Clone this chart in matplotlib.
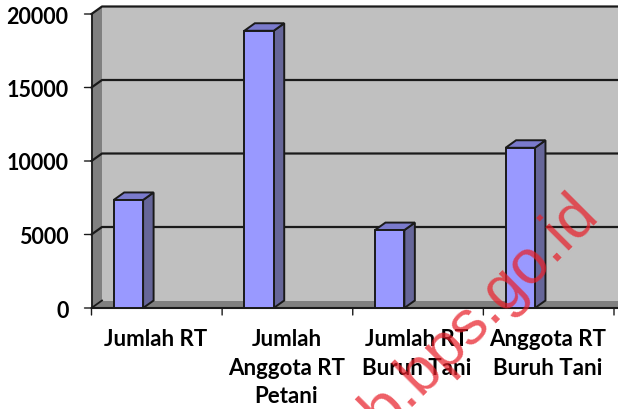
"""
3D-look column chart: households and household members
"""
import matplotlib
matplotlib.use('Agg')
import matplotlib.pyplot as plt
from matplotlib.patches import Polygon

# DATA
categories = ['Jumlah RT', 'Jumlah\nAnggota RT\nPetani', 'Jumlah RT\nBuruh Tani', 'Anggota RT\nBuruh Tani']
values = [7350, 18860, 5300, 10900]
y_ticks = [0, 5000, 10000, 15000, 20000]
y_max = 20000

# STYLE
BAR_FRONT = '#9999ff'
BAR_TOP = '#7a7acc'
BAR_SIDE = '#666699'
WALL = '#c0c0c0'
SIDE_WALL = '#808080'
EDGE = '#1a1a1a'
FONT = 'Lato'

W, H = 618, 409
fig = plt.figure(figsize=(W / 100, H / 100), dpi=100)
ax = fig.add_axes([91.5 / W, 1 - 308 / H, (614 - 91.5) / W, (308 - 14) / H])
ax.set_xlim(0, 4)
ax.set_ylim(0, y_max)
ax.axis('off')

# depth of the fake 3D box, in data units
dx = 10.5 / ((614 - 91.5) / 4)
dy = 7.5 / (294 / y_max)
xr = 4.1


def poly(pts, color, edge='none', lw=0, z=1):
    ax.add_patch(Polygon(pts, closed=True, facecolor=color, edgecolor=edge, linewidth=lw,
                         zorder=z, clip_on=False, joinstyle='miter'))


# walls and floor
poly([(dx, dy), (xr, dy), (xr, y_max + dy), (dx, y_max + dy)], WALL)
poly([(0, 0), (dx, dy), (dx, y_max + dy), (0, y_max)], SIDE_WALL)
poly([(0, 0), (xr, 0), (xr, dy), (dx, dy)], SIDE_WALL)

# gridlines, running over the side wall too
for t in y_ticks:
    if t == 0:
        ax.plot([0, dx], [t, t + dy], color=EDGE, lw=1.3, zorder=2, clip_on=False)
        continue
    ax.plot([0, dx, xr], [t, t + dy, t + dy], color=EDGE, lw=1.6, zorder=2, clip_on=False)

# axes
ax.plot([0, 0], [0, y_max], color=EDGE, lw=1.3, zorder=2, clip_on=False)
ax.plot([0, xr], [0, 0], color=EDGE, lw=1.5, zorder=2, clip_on=False)
for t in y_ticks:
    ax.annotate('', xy=(0, t), xytext=(-7, 0), textcoords='offset pixels',
                arrowprops=dict(arrowstyle='-', color=EDGE, lw=1, shrinkA=0, shrinkB=0))
    ax.annotate(str(t), xy=(0, t), xytext=(-23, -1), textcoords='offset pixels', ha='right', va='center_baseline',
                fontsize=15.5, fontweight='bold', family=FONT, color='black')
for i in range(len(categories) + 1):
    ax.annotate('', xy=(i, 0), xytext=(0, -7), textcoords='offset pixels',
                arrowprops=dict(arrowstyle='-', color=EDGE, lw=1, shrinkA=0, shrinkB=0))

# columns
bar_off = 0.17
bar_w = 0.225
for i, v in enumerate(values):
    x0 = i + bar_off
    x1 = x0 + bar_w
    poly([(x0, 0), (x1, 0), (x1, v), (x0, v)], BAR_FRONT, EDGE, 1.4, z=4)
    poly([(x1, 0), (x1 + dx, dy), (x1 + dx, v + dy), (x1, v)], BAR_SIDE, EDGE, 1.4, z=3)
    poly([(x0, v), (x1, v), (x1 + dx, v + dy), (x0 + dx, v + dy)], BAR_TOP, EDGE, 1.4, z=3)

# category labels
for i, c in enumerate(categories):
    ax.annotate(c, xy=(i + 0.5, 0), xytext=(-1, -21), textcoords='offset pixels', ha='center', va='top',
                fontsize=16, fontweight='bold', family=FONT, color='black', linespacing=1.45, zorder=6)

# watermark
fig.text(600 / W, 1 - 215 / H, 'b.bps.go.id', rotation=45, rotation_mode='anchor', ha='right', va='baseline',
         fontsize=45, family='Liberation Sans', color='#e8202a', alpha=0.72, zorder=10)

fig.savefig('out.png', dpi=100, facecolor='white')
